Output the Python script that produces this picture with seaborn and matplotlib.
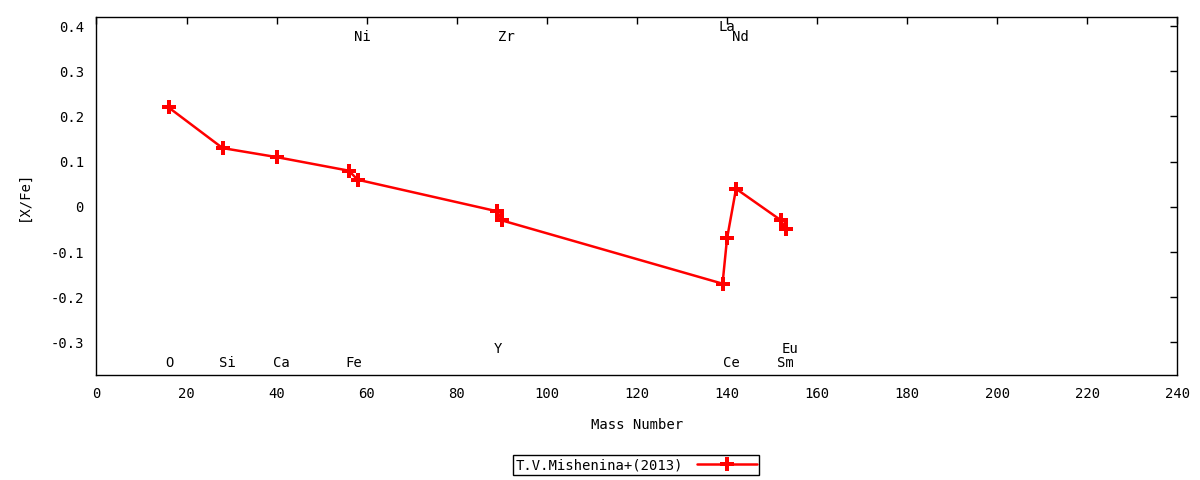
import matplotlib
matplotlib.use("Agg")
import matplotlib.pyplot as plt
import seaborn as sns
import numpy as np
import pandas as pd


# abundances [X/Fe] vs mass number
elements = ["O", "Si", "Ca", "Fe", "Ni", "Y", "Zr", "La", "Ce", "Nd", "Sm", "Eu"]
mass = [16, 28, 40, 56, 58, 89, 90, 139, 140, 142, 152, 153]
xfe = [0.22, 0.13, 0.11, 0.08, 0.06, -0.01, -0.03, -0.17, -0.07, 0.04, -0.03, -0.05]

# element label heights (gnuplot style labels)
label_y = [-0.345, -0.345, -0.345, -0.345, 0.376, -0.314, 0.376, 0.398, -0.345, 0.376, -0.345, -0.314]

x_ticks = list(range(0, 241, 20))
y_ticks = [-0.3, -0.2, -0.1, 0, 0.1, 0.2, 0.3, 0.4]

sns.set_style("white")
plt.rcParams['font.family'] = ['DejaVu Sans Mono', 'DejaVu Sans']
plt.rcParams['font.size'] = 10
plt.rcParams['text.color'] = 'black'
plt.rcParams['axes.labelcolor'] = 'black'

df = pd.DataFrame({"mass": mass, "xfe": xfe, "element": elements})

fig = plt.figure(figsize=(12, 4.8), dpi=100)
ax = fig.add_axes([0.0804, 0.2188, 0.9008, 0.7458])

sns.lineplot(data=df, x="mass", y="xfe", sort=False, ax=ax, color="#ff0000",
             linewidth=1.8, marker="P", markersize=9.5, markeredgewidth=0,
             label="T.V.Mishenina+(2013)")

for el, m, ly in zip(elements, mass, label_y):
    ax.text(m - 0.8, ly, el, ha="left", va="center", fontsize=10, color="black")

ax.set_xlim(0, 240)
ax.set_ylim(-0.372, 0.42)
ax.set_xticks(x_ticks)
ax.set_yticks(y_ticks)
ax.set_yticklabels(["-0.3", "-0.2", "-0.1", "0", "0.1", "0.2", "0.3", "0.4"])
ax.tick_params(direction="in", top=True, right=True, length=5, width=1, pad=9,
               labelsize=10, colors="black")
for sp in ax.spines.values():
    sp.set_color("black")
    sp.set_linewidth(1)

ax.set_xlabel("Mass Number", fontsize=10, labelpad=12)
ax.set_ylabel("[X/Fe]", fontsize=10, labelpad=14)

ax.legend(loc="center", bbox_to_anchor=(0.53, 0.031), bbox_transform=fig.transFigure,
          markerfirst=False, frameon=True, fancybox=False, edgecolor="black",
          fontsize=10, handlelength=4.3, handletextpad=1.0, borderpad=0.2,
          framealpha=1)
ax.get_legend().get_frame().set_linewidth(1)

fig.savefig("out.png", dpi=100)
